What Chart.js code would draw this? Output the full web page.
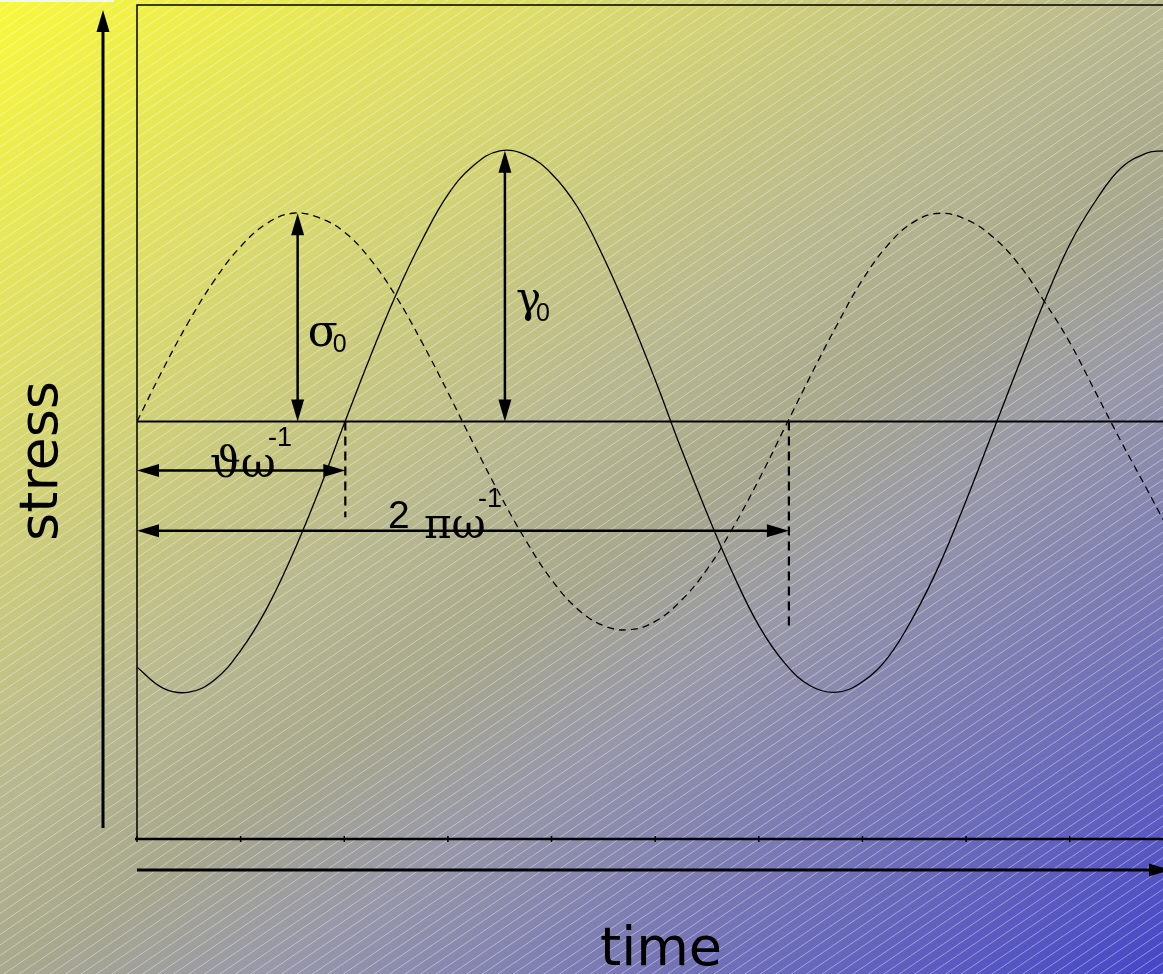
<!DOCTYPE html>
<html>
<head>
<meta charset="utf-8">
<script src="https://cdn.jsdelivr.net/npm/chart.js@4.4.1/dist/chart.umd.min.js"></script>
<style>
  html, body { margin: 0; padding: 0; overflow: hidden; background: #fff; }
  canvas { display: block; }
</style>
</head>
<body>
<canvas id="oscChart" width="1163" height="974"></canvas>
<script>
"use strict";

// time samples (arbitrary units, one period ~ 6.28)
const times = [0, 0.25, 0.5, 0.75, 1.0, 1.25, 1.5, 1.75, 2.0, 2.25, 2.5, 2.75, 3.0, 3.25,
    3.5, 3.75, 4.0, 4.25, 4.5, 4.75, 5.0, 5.25, 5.5, 5.75, 6.0, 6.25, 6.5, 6.75, 7.0,
    7.25, 7.5, 7.75, 8.0, 8.25, 8.5, 8.75, 9.0, 9.25, 9.5, 9.75, 9.9];

// stress (dashed curve), amplitude sigma0 = 1
const stress = [0, 0.25, 0.48, 0.68, 0.84, 0.95, 1.0, 0.98, 0.91, 0.78, 0.6, 0.38, 0.14,
    -0.11, -0.35, -0.57, -0.76, -0.9, -0.98, -1.0, -0.96, -0.86, -0.71, -0.51, -0.28,
    -0.03, 0.22, 0.46, 0.68, 0.85, 0.96, 1.0, 0.97, 0.89, 0.76, 0.58, 0.38, 0.14,
    -0.1, -0.33, -0.47];

// strain (solid curve), amplitude gamma0 = 1.3
const strain = [-1.18, -1.28, -1.3, -1.24, -1.1, -0.9, -0.64, -0.34, -0.01, 0.31, 0.61,
    0.87, 1.09, 1.23, 1.3, 1.28, 1.19, 1.03, 0.79, 0.51, 0.2, -0.13, -0.44, -0.73, -0.98,
    -1.16, -1.27, -1.3, -1.25, -1.13, -0.93, -0.68, -0.38, -0.06, 0.26, 0.57, 0.85,
    1.06, 1.22, 1.29, 1.3];

// amplitude arrows: sigma0 then gamma0
const peakTimes = [1.55, 3.55];
const peakValues = [1.0, 1.3];

// horizontal spans: phase lag theta/omega, period 2pi/omega
const spanEnds = [2.01, 6.29];
const spanLevels = [-0.235, -0.525];
const guideDepths = [-0.46, -1.0];

const xTicks = [0, 1, 2, 3, 4, 5, 6, 7, 8, 9];

const greek = "'DejaVu Serif', 'Liberation Serif', serif";
const sans = "'Liberation Sans', Arial, sans-serif";

function arrow(ctx, x1, y1, x2, y2, startHead, endHead, lw) {
    const len = 22, half = 6.5;
    const ang = Math.atan2(y2 - y1, x2 - x1);
    ctx.save();
    ctx.lineWidth = lw || 2.5;
    ctx.strokeStyle = '#000';
    ctx.fillStyle = '#000';
    ctx.beginPath();
    ctx.moveTo(x1 + (startHead ? Math.cos(ang) * 10 : 0), y1 + (startHead ? Math.sin(ang) * 10 : 0));
    ctx.lineTo(x2 - (endHead ? Math.cos(ang) * 10 : 0), y2 - (endHead ? Math.sin(ang) * 10 : 0));
    ctx.stroke();
    const head = (tx, ty, a) => {
        ctx.beginPath();
        ctx.moveTo(tx, ty);
        ctx.lineTo(tx - len * Math.cos(a) - half * Math.sin(a), ty - len * Math.sin(a) + half * Math.cos(a));
        ctx.lineTo(tx - len * Math.cos(a) + half * Math.sin(a), ty - len * Math.sin(a) - half * Math.cos(a));
        ctx.closePath();
        ctx.fill();
    };
    if (endHead) head(x2, y2, ang);
    if (startHead) head(x1, y1, ang + Math.PI);
    ctx.restore();
}

const backdrop = {
    id: 'backdrop',
    beforeDraw(chart) {
        const ctx = chart.ctx;
        const w = chart.width, h = chart.height;
        ctx.save();
        const g = ctx.createLinearGradient(0, 0, 826, 1205);
        g.addColorStop(0, '#f8f83a');
        g.addColorStop(0.22, '#dcdc6c');
        g.addColorStop(0.45, '#b8b890');
        g.addColorStop(0.55, '#a8a88c');
        g.addColorStop(0.65, '#9898a8');
        g.addColorStop(0.82, '#7070b8');
        g.addColorStop(1, '#4646c8');
        ctx.fillStyle = g;
        ctx.fillRect(0, 0, w, h);

        // fine diagonal hatching
        ctx.strokeStyle = 'rgba(255,255,255,0.4)';
        ctx.lineWidth = 1;
        ctx.beginPath();
        for (let c = 0; c < h + w * 0.68; c += 10.5) {
            ctx.moveTo(0, c);
            ctx.lineTo(w, c - w * 0.68);
        }
        ctx.stroke();

        ctx.fillStyle = '#f4f4fa';
        ctx.fillRect(0, 0, 114, 2);
        ctx.restore();
    }
};

const overlay = {
    id: 'overlay',
    afterDatasetsDraw(chart) {
        const ctx = chart.ctx;
        const area = chart.chartArea;
        const xs = chart.scales.x, ys = chart.scales.y;
        const y0 = ys.getPixelForValue(0);
        ctx.save();
        ctx.strokeStyle = '#000';

        // frame
        ctx.lineWidth = 1.5;
        ctx.beginPath();
        ctx.moveTo(area.left, area.bottom);
        ctx.lineTo(area.left, area.top);
        ctx.lineTo(area.right, area.top);
        ctx.stroke();
        ctx.lineWidth = 2.5;
        ctx.beginPath();
        ctx.moveTo(area.left - 2, area.bottom + 1);
        ctx.lineTo(area.right, area.bottom + 1);
        ctx.stroke();
        ctx.lineWidth = 1.5;
        ctx.beginPath();
        xTicks.forEach(t => {
            const px = xs.getPixelForValue(t);
            ctx.moveTo(px, area.bottom - 2);
            ctx.lineTo(px, area.bottom + 4);
        });
        ctx.stroke();

        // zero line
        ctx.lineWidth = 2;
        ctx.beginPath();
        ctx.moveTo(area.left, y0);
        ctx.lineTo(area.right, y0);
        ctx.stroke();

        // dashed guides down from the crossings
        ctx.lineWidth = 2.2;
        ctx.setLineDash([9, 6]);
        ctx.beginPath();
        spanEnds.forEach((t, i) => {
            const px = xs.getPixelForValue(t);
            ctx.moveTo(px, y0);
            ctx.lineTo(px, ys.getPixelForValue(guideDepths[i]));
        });
        ctx.stroke();
        ctx.setLineDash([]);

        // amplitude arrows
        peakTimes.forEach((t, i) => {
            const px = xs.getPixelForValue(t);
            arrow(ctx, px, y0, px, ys.getPixelForValue(peakValues[i]), true, true);
        });

        // lag and period spans
        spanEnds.forEach((t, i) => {
            const py = ys.getPixelForValue(spanLevels[i]);
            arrow(ctx, area.left, py, xs.getPixelForValue(t), py, true, true);
        });

        // axis arrows outside the box
        arrow(ctx, area.left - 34, area.bottom - 10, area.left - 34, area.top + 5, false, true, 3);
        arrow(ctx, area.left, area.bottom + 32, area.right + 8, area.bottom + 32, false, true, 3);

        // labels
        ctx.fillStyle = '#000';
        ctx.textBaseline = 'alphabetic';
        ctx.textAlign = 'left';
        const sx = xs.getPixelForValue(peakTimes[0]);
        const sMid = (y0 + ys.getPixelForValue(peakValues[0])) / 2;
        ctx.font = '44px ' + greek;
        ctx.fillText('σ', sx + 10, sMid + 29);
        ctx.font = '25px ' + sans;
        ctx.fillText('0', sx + 35, sMid + 35);

        const gx = xs.getPixelForValue(peakTimes[1]);
        const gMid = (y0 + ys.getPixelForValue(peakValues[1])) / 2;
        ctx.font = '42px ' + greek;
        ctx.fillText('γ', gx + 11, gMid + 26);
        ctx.font = '25px ' + sans;
        ctx.fillText('0', gx + 31, gMid + 35);

        const lagY = ys.getPixelForValue(spanLevels[0]);
        ctx.font = '43px ' + greek;
        ctx.fillText('ϑω', area.left + 73, lagY + 7);
        ctx.font = '27px ' + sans;
        ctx.fillText('-1', area.left + 131, lagY - 24);

        const perY = ys.getPixelForValue(spanLevels[1]);
        ctx.font = '39px ' + sans;
        ctx.fillText('2', area.left + 251, perY - 3);
        ctx.font = '42px ' + greek;
        ctx.fillText('πω', area.left + 287, perY + 7);
        ctx.font = '27px ' + sans;
        ctx.fillText('-1', area.left + 341, perY - 24);

        // axis titles
        ctx.font = "54px 'DejaVu Sans', sans-serif";
        ctx.textAlign = 'center';
        ctx.fillText('time', 661, 965);
        ctx.translate(57, 461);
        ctx.rotate(-Math.PI / 2);
        ctx.fillText('stress', 0, 0);
        ctx.restore();
    }
};

const ctx = document.getElementById('oscChart').getContext('2d');
const oscChart = new Chart(ctx, {
    type: 'line',
    data: {
        labels: times,
        datasets: [{
            label: 'stress',
            data: times.map((t, i) => ({ x: t, y: stress[i] })),
            borderColor: '#000',
            borderWidth: 1.3,
            borderDash: [7, 5],
            pointRadius: 0,
            tension: 0.4,
            fill: false
        }, {
            label: 'strain',
            data: times.map((t, i) => ({ x: t, y: strain[i] })),
            borderColor: '#000',
            borderWidth: 1.3,
            pointRadius: 0,
            tension: 0.4,
            fill: false
        }]
    },
    options: {
        responsive: false,
        animation: false,
        devicePixelRatio: 1,
        layout: { padding: { left: 137, top: 5, right: 0, bottom: 136 } },
        scales: {
            x: { type: 'linear', min: 0, max: 9.9, display: false },
            y: { min: -2, max: 2, display: false }
        },
        plugins: {
            legend: { display: false },
            tooltip: { enabled: false }
        }
    },
    plugins: [backdrop, overlay]
});
</script>
</body>
</html>
